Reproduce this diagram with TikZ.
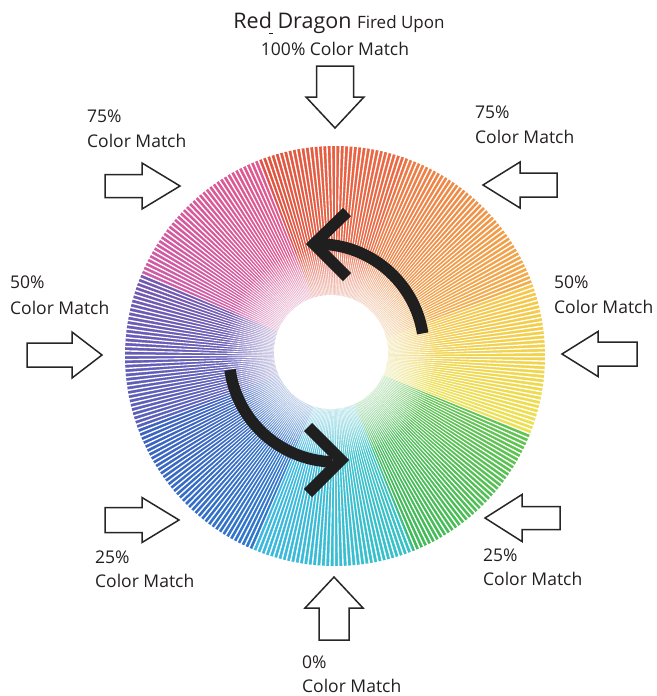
\documentclass[tikz,border=0pt]{standalone}
\usepackage{fontspec}
\setmainfont{Open Sans}
\definecolor{txt}{HTML}{231F20}
\definecolor{Y1}{HTML}{ECE24E}
\definecolor{Y2}{HTML}{F6C64A}
\definecolor{O1}{HTML}{F4AE4A}
\definecolor{O2}{HTML}{EE7A45}
\definecolor{R1}{HTML}{EC6C44}
\definecolor{R2}{HTML}{E2523F}
\definecolor{P1}{HTML}{E0588F}
\definecolor{P2}{HTML}{D05AA6}
\definecolor{V1}{HTML}{7458B2}
\definecolor{V2}{HTML}{5860BC}
\definecolor{B1}{HTML}{3D62C0}
\definecolor{B2}{HTML}{2F78CC}
\definecolor{C1}{HTML}{3AB8E0}
\definecolor{C2}{HTML}{34C3C6}
\definecolor{G1}{HTML}{3FBA5A}
\definecolor{G2}{HTML}{62C450}
\newcommand\hollowarrow[7]{%
  \draw[outlinearrow, shift={(#1,#2)}, rotate=#3]
    (0,0) -- (-#5,#7) -- (-#5,#6) -- (-#4,#6) -- (-#4,-#6) -- (-#5,-#6) -- (-#5,-#7) -- cycle;}
\begin{document}
\begin{tikzpicture}[x=1pt,y=-1pt,
  lbl/.style={anchor=base west, inner sep=0pt, text=txt, font=\fontsize{17.5}{20}\selectfont},
  outlinearrow/.style={draw=black!85, fill=white, line width=1.5pt, line join=miter},
  turnarrow/.style={draw=black!88, line width=11.5pt}]
\path[use as bounding box] (0,0) rectangle (656,696);

% colour wheel
\begin{scope}[shift={(335,356)}]
\foreach \sa/\ea/\ca/\cb in {338/380/Y1/Y2, 380/430/O1/O2, 430/471/R1/R2, 471/517/P1/P2, 517/560/V1/V2, 560/607/B1/B2, 607/652/C1/C2, 652/698/G1/G2}{
  \pgfmathtruncatemacro\nn{\ea-\sa-1}
  \foreach \k in {0,...,\nn}{
    \pgfmathsetmacro\pc{100*(\k+0.5)/(\ea-\sa)}
    \pgfmathsetmacro\ang{\sa+\k}
    \colorlet{wc}{\cb!\pc!\ca}
    \fill[wc] (0,0) -- (-\ang:210) arc[start angle=-\ang, end angle=-\ang-1.15, radius=210] -- cycle;
  }
}
\foreach \i in {0,...,299}{
  \fill[white] (0,0) -- (\i*1.2:213) -- (\i*1.2+0.4:213) -- cycle;
}
\foreach \r in {104,99,...,58}{
  \fill[white, opacity=0.1] (-4,-4) circle[radius=\r];
}
\fill[white] (-4,-4) circle[radius=57];
\end{scope}

% rotation arrows
\draw[turnarrow] (318,350) ++(-9:106) arc[start angle=-9, end angle=-90, radius=106];
\draw[turnarrow, line join=miter] (347,212) -- (314,244) -- (347,277);
\draw[turnarrow] (336,355) ++(-188:107) arc[start angle=-188, end angle=-268, radius=107];
\draw[turnarrow, line join=miter] (308,427) -- (341,460) -- (308,493);

% hollow arrows
\hollowarrow{335}{128}{-90}{62}{31}{18.5}{29}
\hollowarrow{180}{186}{0}{75}{38}{11.5}{23}
\hollowarrow{483}{185}{180}{74}{37}{12}{23}
\hollowarrow{102}{355}{0}{75}{30}{12}{23}
\hollowarrow{562}{354}{180}{75}{36}{12}{22.5}
\hollowarrow{179}{520}{0}{74}{37}{12.5}{22.5}
\hollowarrow{485}{518}{180}{75}{37}{11.5}{23.5}
\hollowarrow{334}{577}{90}{63}{31}{15}{29}

% labels
\node[anchor=base, inner sep=0pt, text=txt] (title) at (339,28)
  {\fontsize{21.5}{24}\selectfont Red Dragon \fontsize{17}{20}\selectfont Fired Upon};
\draw[txt, line width=1pt] (269,33.5) -- (273,33.5);
\node[anchor=base, inner sep=0pt, text=txt, font=\fontsize{17.5}{20}\selectfont] (title2) at (335,55) {100\% Color Match};
\node[lbl] (tlA) at (87,122) {75\%};
\node[lbl] (tlB) at (87,147) {Color Match};
\node[lbl] (trA) at (475,118) {75\%};
\node[lbl] (trB) at (475,143) {Color Match};
\node[lbl] (lA) at (10,288) {50\%};
\node[lbl] (lB) at (10,314) {Color Match};
\node[lbl] (rA) at (554,288) {50\%};
\node[lbl] (rB) at (554,313) {Color Match};
\node[lbl] (blA) at (95,563) {25\%};
\node[lbl] (blB) at (95,587) {Color Match};
\node[lbl] (brA) at (483,561) {25\%};
\node[lbl] (brB) at (483,585) {Color Match};
\node[lbl] (bA) at (302,668) {0\%};
\node[lbl] (bB) at (302,692) {Color Match};
\end{tikzpicture}
\end{document}
